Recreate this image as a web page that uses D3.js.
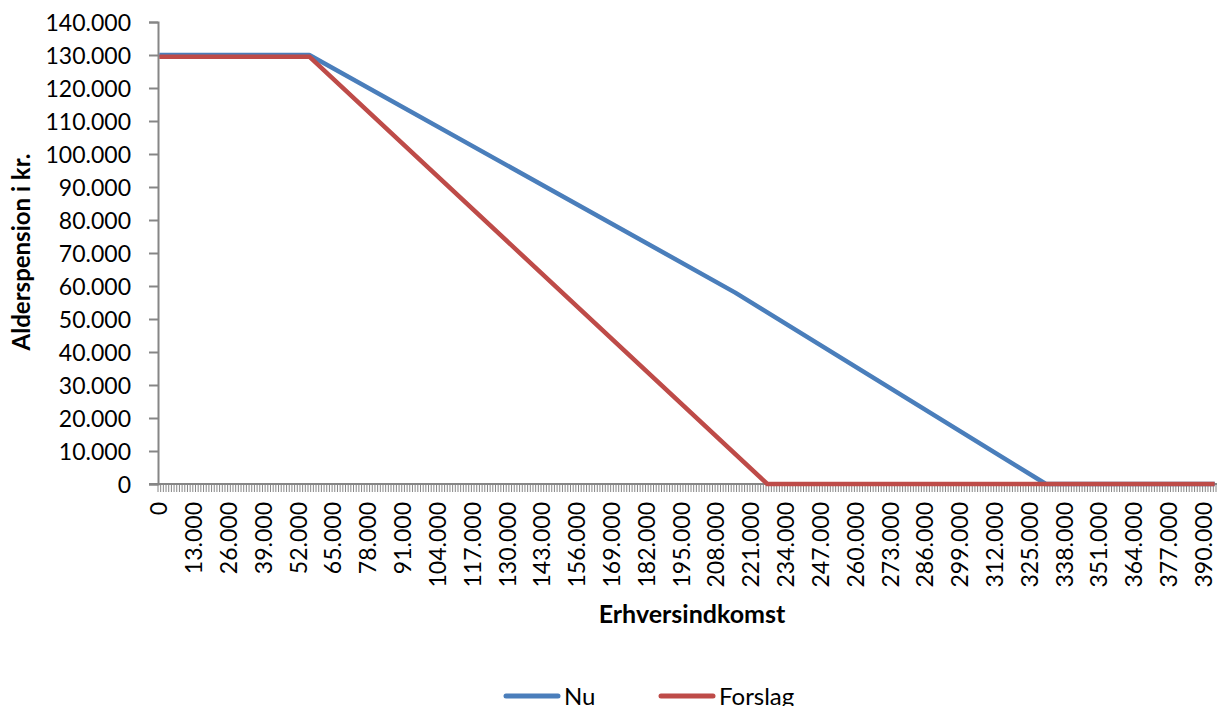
<!DOCTYPE html>
<html>
<head>
<meta charset="utf-8">
<script src="https://cdn.jsdelivr.net/npm/d3@7"></script>
<style>
  body { margin: 0; background: #fff; }
  svg text { font-family: Lato, "Open Sans", sans-serif; fill: #000; }
</style>
</head>
<body>
<svg id="chart" width="1217" height="706"></svg>
<script>
// breakpoints (income in kr, pension in kr)
var nuIncome = [0, 56000, 215000, 331000, 394000];
var nuValues = [130000, 130000, 58000, 0, 0];
var forslagIncome = [0, 56000, 227000, 394000];
var forslagValues = [129500, 129500, 0, 0];
var yTicks = [0, 10000, 20000, 30000, 40000, 50000, 60000, 70000, 80000, 90000, 100000, 110000, 120000, 130000, 140000];
var xLabels = [0, 13000, 26000, 39000, 52000, 65000, 78000, 91000, 104000, 117000, 130000, 143000, 156000, 169000, 182000,
    195000, 208000, 221000, 234000, 247000, 260000, 273000, 286000, 299000, 312000, 325000, 338000, 351000, 364000, 377000, 390000];
var nCategories = 395;

var plotLeft = 158, plotRight = 1216, plotTop = 22, plotBottom = 484;
var svg = d3.select("#chart");
var x = d3.scaleLinear().domain([0, nCategories * 1000]).range([plotLeft, plotRight]);
var y = d3.scaleLinear().domain([0, 140000]).range([plotBottom, plotTop]);
var fmt = d3.formatLocale({ decimal: ",", thousands: ".", grouping: [3], currency: ["", " kr."] }).format(",d");
var axisCol = "#868686";

//y axis
var yAxis = svg.append("g")
    .attr("transform", `translate(${plotLeft},0)`)
    .call(d3.axisLeft(y).tickValues(yTicks).tickSize(9).tickPadding(18).tickFormat(fmt));
yAxis.select(".domain").attr("stroke", axisCol).attr("stroke-width", 2);
yAxis.selectAll(".tick line").attr("stroke", axisCol).attr("stroke-width", 2);
yAxis.selectAll("text").style("font-size", "23px").attr("dy", "0.36em");

//x axis: minor tick every category
var minor = d3.range(0, nCategories * 1000 + 1, 1000);
svg.append("g").selectAll("line")
    .data(minor)
    .enter().append("line")
    .attr("x1", d => x(d)).attr("x2", d => x(d))
    .attr("y1", plotBottom).attr("y2", plotBottom + 8)
    .attr("stroke", axisCol).attr("stroke-width", 1);
svg.append("line")
    .attr("x1", plotLeft - 9).attr("x2", plotRight + 2)
    .attr("y1", plotBottom).attr("y2", plotBottom)
    .attr("stroke", axisCol).attr("stroke-width", 2);

svg.append("g").selectAll("text")
    .data(xLabels)
    .enter().append("text")
    .attr("transform", d => `translate(${x(d + 500) + 8},${plotBottom + 18}) rotate(-90)`)
    .attr("text-anchor", "end")
    .style("font-size", "23px")
    .text(d => fmt(d));

//lines
var line = d3.line().x(d => x(d[0] + 500)).y(d => y(d[1]));
svg.append("path")
    .datum(nuIncome.map((v, i) => [v, nuValues[i]]))
    .attr("d", line)
    .attr("fill", "none").attr("stroke", "#4A7EBB").attr("stroke-width", 4.5)
    .attr("stroke-linejoin", "round");
svg.append("path")
    .datum(forslagIncome.map((v, i) => [v, forslagValues[i]]))
    .attr("d", line)
    .attr("fill", "none").attr("stroke", "#BE4B48").attr("stroke-width", 4.5)
    .attr("stroke-linejoin", "round");

//titles
svg.append("text")
    .attr("transform", "translate(30,252) rotate(-90)")
    .attr("text-anchor", "middle")
    .style("font-size", "24px").style("font-weight", "bold")
    .text("Alderspension i kr.");
svg.append("text")
    .attr("x", 692).attr("y", 623)
    .attr("text-anchor", "middle")
    .style("font-size", "25px").style("font-weight", "bold")
    .text("Erhversindkomst");

//legend
var legend = [["Nu", "#4A7EBB", 506], ["Forslag", "#BE4B48", 661]];
legend.forEach(d => {
    svg.append("line")
        .attr("x1", d[2]).attr("x2", d[2] + 52)
        .attr("y1", 696).attr("y2", 696)
        .attr("stroke", d[1]).attr("stroke-width", 5).attr("stroke-linecap", "round");
    svg.append("text")
        .attr("x", d[2] + 58).attr("y", 705)
        .style("font-size", "24px")
        .text(d[0]);
});
</script>
</body>
</html>
